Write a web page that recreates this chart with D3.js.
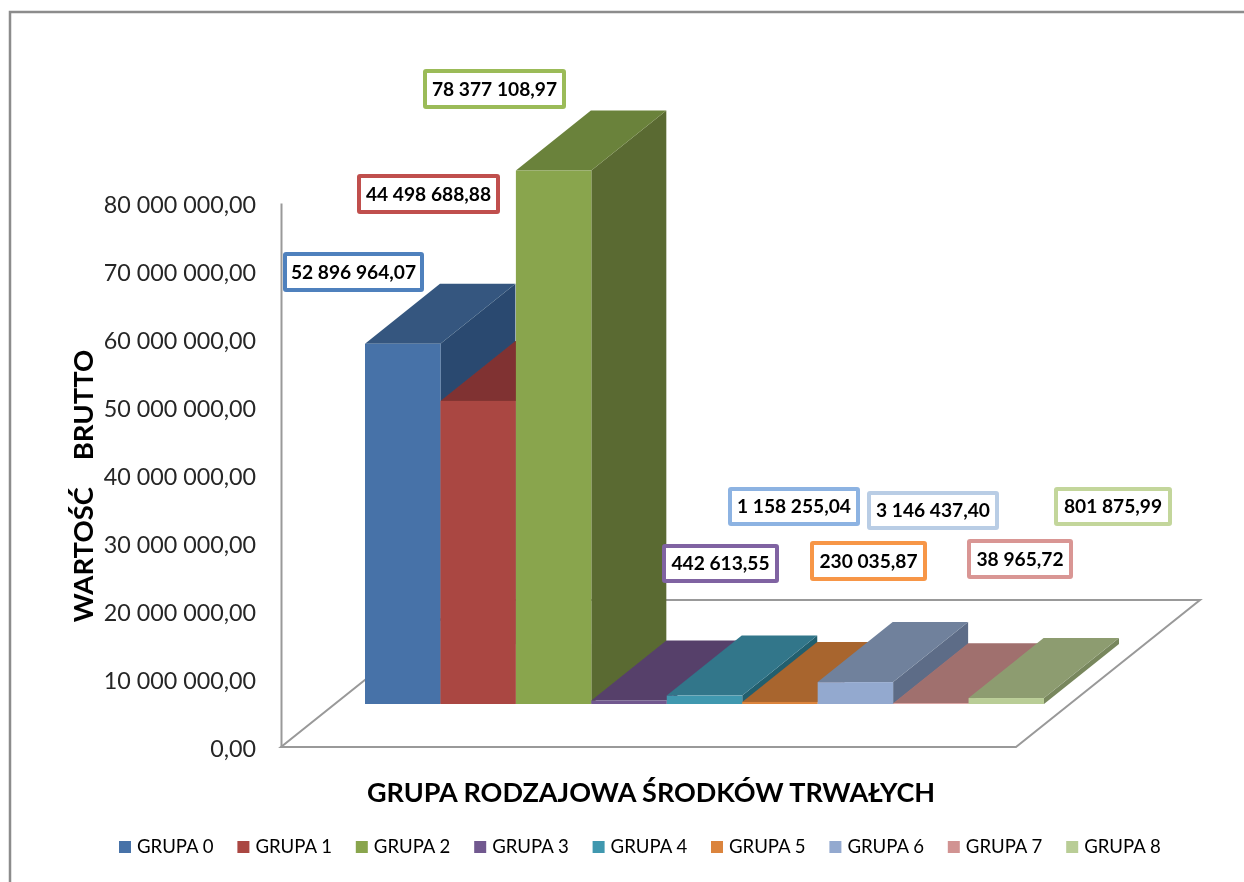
<!DOCTYPE html>
<html>
<head>
<meta charset="utf-8">
<script src="https://cdn.jsdelivr.net/npm/d3@7"></script>
<style>
    html, body { margin: 0; padding: 0; background: #fff; }
    svg { display: block; }
    text { font-family: Lato, "Open Sans", sans-serif; fill: #000; white-space: pre; }
</style>
</head>
<body>
<div id="chart"></div>
<script>
    // Values
    const categories = ["GRUPA 0", "GRUPA 1", "GRUPA 2", "GRUPA 3", "GRUPA 4", "GRUPA 5", "GRUPA 6", "GRUPA 7", "GRUPA 8"];
    const values = [52896964.07, 44498688.88, 78377108.97, 442613.55, 1158255.04, 230035.87, 3146437.40, 38965.72, 801875.99];
    const yTicks = [0, 10000000, 20000000, 30000000, 40000000, 50000000, 60000000, 70000000, 80000000];

    // Colours of the three visible faces of each bar
    const frontColors = ["#4672a8", "#aa4643", "#89a54e", "#71588f", "#4198af", "#db843d", "#93a9cf", "#d19392", "#b9cd96"];
    const topColors = ["#34577f", "#803330", "#6b823b", "#57416b", "#30768a", "#a8652d", "#6f819c", "#a06f6e", "#8d9c70"];
    const sideColors = ["#2c4a70", "#6e2b29", "#5a6b30", "#493759", "#245e6e", "#8c5425", "#5d6c87", "#875d5c", "#78875d"];

    // Label boxes were placed by hand in the original chart: x0, y0, x1, y1
    const labelBoxes = [
        [285, 254, 422, 290], [359, 176, 498, 212], [425, 71, 564, 107],
        [664, 546, 777, 581], [730, 489, 858, 524], [812, 543, 925, 579],
        [869, 493, 997, 528], [969, 541, 1071, 577], [1056, 489, 1170, 524]
    ];
    const labelColors = ["#4f81bd", "#c0504d", "#9bbb59", "#8064a2", "#8db3e2", "#f79646", "#b9cde5", "#d99694", "#c3d69b"];

    const width = 1244, height = 882;
    const depthX = 75, depthY = 60;      // depth of a bar on screen
    const floorLift = 43;                // bars stand this far above the front floor edge
    const floorDepthX = 184, floorDepthY = 147;
    const axisColor = "#999999";

    const plPL = d3.formatLocale({ decimal: ",", thousands: " ", grouping: [3], currency: ["", ""] });
    const formatValue = plPL.format(",.2f");

    const x = d3.scaleBand().domain(categories).range([365, 1044]);
    const y = d3.scaleLinear().domain([0, 80000000]).range([747, 203]);

    const svg = d3.select("#chart").append("svg")
        .attr("width", width)
        .attr("height", height);

    // The reference is a slightly soft screenshot
    svg.append("filter").attr("id", "soft")
        .append("feGaussianBlur").attr("stdDeviation", 0.45);

    const root = svg.append("g").attr("filter", "url(#soft)");

    // Outer frame, only left and top are in the picture
    root.append("path")
        .attr("d", `M10,${height} V12 H${width}`)
        .attr("fill", "none")
        .attr("stroke", "#8c8c8c")
        .attr("stroke-width", 2.5);

    // Floor of the 3D plot
    const floorPoints = [
        [281, y(0)], [1016, y(0)],
        [1016 + floorDepthX, y(0) - floorDepthY], [281 + floorDepthX, y(0) - floorDepthY]
    ];
    root.append("polygon")
        .attr("points", floorPoints.join(" "))
        .attr("fill", "#fff")
        .attr("stroke", axisColor)
        .attr("stroke-width", 2);

    // Value axis
    const axis = root.append("g")
        .attr("transform", "translate(281,0)")
        .call(d3.axisLeft(y).tickValues(yTicks).tickSize(0).tickPadding(25).tickFormat(formatValue));
    axis.select(".domain")
        .attr("stroke", axisColor)
        .attr("stroke-width", 2);
    axis.selectAll("text")
        .attr("font-size", 23.3)
        .attr("dy", "0.4em")
        .style("fill", "#262626")
        .style("font-family", "Lato, 'Open Sans', sans-serif");

    // Bars, painted left to right so each one hides the side of the previous one
    const bars = root.selectAll(".bar")
        .data(categories.map((c, i) => ({ c, i, v: values[i] })))
        .enter()
        .append("g")
        .attr("class", "bar");

    const barTop = d => y(d.v) - floorLift - 0.5;
    const barBase = y(0) - floorLift;

    bars.append("polygon") // side
        .attr("points", d => {
            const r = x(d.c) + x.bandwidth();
            return [[r, barBase], [r + depthX, barBase - depthY], [r + depthX, barTop(d) - depthY], [r, barTop(d)]].join(" ");
        })
        .attr("fill", d => sideColors[d.i]);

    bars.append("polygon") // top
        .attr("points", d => {
            const l = x(d.c), r = l + x.bandwidth();
            return [[l, barTop(d)], [r, barTop(d)], [r + depthX, barTop(d) - depthY], [l + depthX, barTop(d) - depthY]].join(" ");
        })
        .attr("fill", d => topColors[d.i]);

    bars.append("rect") // front
        .attr("x", d => x(d.c))
        .attr("y", barTop)
        .attr("width", x.bandwidth())
        .attr("height", d => barBase - barTop(d))
        .attr("fill", d => frontColors[d.i]);

    // Data labels
    const labels = root.selectAll(".data-label")
        .data(values)
        .enter()
        .append("g")
        .attr("class", "data-label");

    labels.append("rect")
        .attr("x", (d, i) => labelBoxes[i][0])
        .attr("y", (d, i) => labelBoxes[i][1])
        .attr("width", (d, i) => labelBoxes[i][2] - labelBoxes[i][0])
        .attr("height", (d, i) => labelBoxes[i][3] - labelBoxes[i][1])
        .attr("rx", 1)
        .attr("fill", "#fff")
        .attr("stroke", (d, i) => labelColors[i])
        .attr("stroke-width", 4);

    labels.append("text")
        .attr("x", (d, i) => (labelBoxes[i][0] + labelBoxes[i][2]) / 2)
        .attr("y", (d, i) => (labelBoxes[i][1] + labelBoxes[i][3]) / 2)
        .attr("dy", "0.36em")
        .attr("text-anchor", "middle")
        .attr("font-size", 19.2)
        .attr("font-weight", 700)
        .text(d => formatValue(d));

    // Axis titles
    root.append("text")
        .attr("x", 651)
        .attr("y", 802)
        .attr("text-anchor", "middle")
        .attr("font-size", 27)
        .attr("font-weight", 700)
        .text("GRUPA RODZAJOWA ŚRODKÓW TRWAŁYCH");

    root.append("text")
        .attr("transform", "translate(93,486) rotate(-90)")
        .attr("text-anchor", "middle")
        .attr("font-size", 27.5)
        .attr("font-weight", 700)
        .text("WARTOŚĆ    BRUTTO");

    // Legend
    const legendX = d3.scaleBand().domain(categories).range([119, 119 + 9 * 118.4]);
    const legend = root.selectAll(".legend-item")
        .data(categories)
        .enter()
        .append("g")
        .attr("class", "legend-item")
        .attr("transform", d => `translate(${legendX(d)},846)`);

    legend.append("rect")
        .attr("y", -5)
        .attr("width", 12)
        .attr("height", 12)
        .attr("fill", (d, i) => frontColors[i]);

    legend.append("text")
        .attr("x", 18)
        .attr("dy", "0.36em")
        .attr("font-size", 18.6)
        .attr("fill", "#262626")
        .text(d => d);
</script>
</body>
</html>
